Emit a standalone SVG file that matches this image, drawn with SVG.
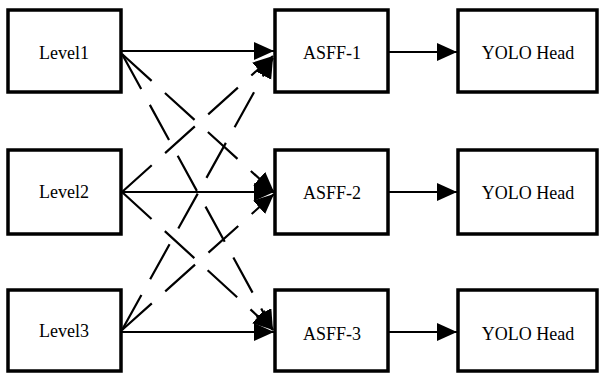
<svg xmlns="http://www.w3.org/2000/svg" width="600" height="375" viewBox="0 0 600 375">
<defs>
<marker id="ah" markerUnits="userSpaceOnUse" markerWidth="22" markerHeight="20" refX="20" refY="9" orient="auto">
<path d="M0,0 L20,9 L0,18 Z" fill="#000"/>
</marker>
<style>
.box{fill:#fff;stroke:#000;stroke-width:3.5}
.lbl{font-family:'Liberation Serif','Times New Roman',serif;font-size:18px;fill:#000;text-anchor:middle}
.sol{stroke:#000;stroke-width:2.2;fill:none;marker-end:url(#ah)}
.dsh{stroke:#000;stroke-width:2.2;fill:none;stroke-dasharray:40 18;marker-end:url(#ah)}
</style>
</defs>
<rect width="600" height="375" fill="#fff"/>
<g id="connectors">
<line class="sol" x1="122" y1="51" x2="274" y2="51"/>
<line class="sol" x1="122" y1="192" x2="274" y2="192"/>
<line class="sol" x1="122" y1="332" x2="274" y2="332"/>
<line class="dsh" x1="122" y1="54" x2="274" y2="192"/>
<line class="dsh" x1="122" y1="54" x2="273" y2="330"/>
<line class="dsh" x1="122" y1="192" x2="273" y2="56"/>
<line class="dsh" x1="122" y1="192" x2="273" y2="330"/>
<line class="dsh" x1="122" y1="330" x2="273" y2="58"/>
<line class="dsh" x1="122" y1="330" x2="274" y2="194"/>
<line class="sol" x1="389" y1="52" x2="457" y2="52"/>
<line class="sol" x1="389" y1="192" x2="457" y2="192"/>
<line class="sol" x1="389" y1="332" x2="457" y2="332"/>
</g>
<g id="level1"><rect class="box" x="8" y="10" width="113" height="82"/><text class="lbl" font-family="Liberation Serif, serif" x="64" y="59">Level1</text></g>
<g id="level2"><rect class="box" x="8" y="150" width="113" height="84"/><text class="lbl" font-family="Liberation Serif, serif" x="64" y="198">Level2</text></g>
<g id="level3"><rect class="box" x="8" y="290" width="113" height="81"/><text class="lbl" font-family="Liberation Serif, serif" x="64" y="337">Level3</text></g>
<g id="asff1"><rect class="box" x="275" y="10" width="113" height="82"/><text class="lbl" font-family="Liberation Serif, serif" x="332" y="59">ASFF-1</text></g>
<g id="asff2"><rect class="box" x="275" y="150" width="113" height="84"/><text class="lbl" font-family="Liberation Serif, serif" x="332" y="199">ASFF-2</text></g>
<g id="asff3"><rect class="box" x="275" y="290" width="113" height="81"/><text class="lbl" font-family="Liberation Serif, serif" x="332" y="340">ASFF-3</text></g>
<g id="yolo1"><rect class="box" x="458" y="10" width="139" height="82"/><text class="lbl" font-family="Liberation Serif, serif" x="528" y="59">YOLO Head</text></g>
<g id="yolo2"><rect class="box" x="458" y="150" width="139" height="84"/><text class="lbl" font-family="Liberation Serif, serif" x="528" y="199">YOLO Head</text></g>
<g id="yolo3"><rect class="box" x="458" y="290" width="139" height="81"/><text class="lbl" font-family="Liberation Serif, serif" x="528" y="340">YOLO Head</text></g>
</svg>
